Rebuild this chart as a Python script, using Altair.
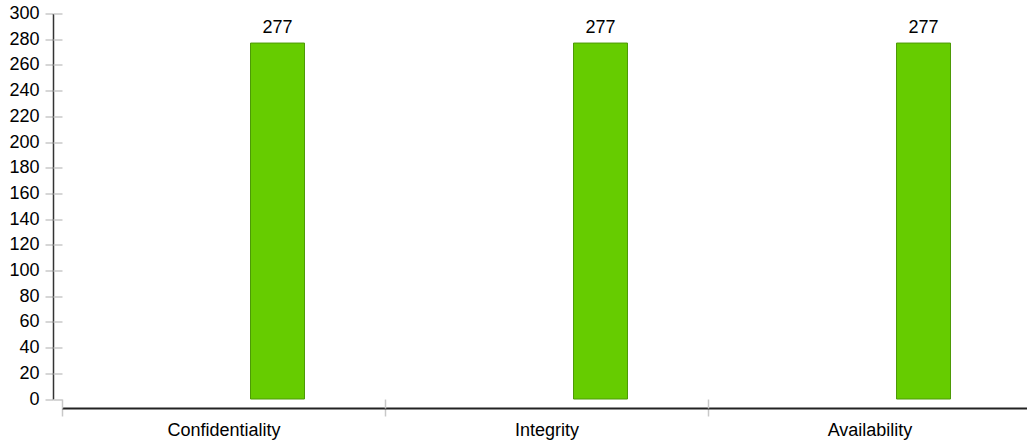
import altair as alt
import pandas as pd

categories = ["Confidentiality", "Integrity", "Availability"]
values = [277, 277, 277]
y_ticks = list(range(0, 301, 20))

df = pd.DataFrame({"category": categories, "value": values})

FONT = "Liberation Sans"

x_scale = alt.Scale(paddingInner=0, paddingOuter=0, range=[0, 969])
y_scale = alt.Scale(domain=[0, 300], nice=False, zero=True)

base = alt.Chart(df)

bars = base.mark_bar(
    width=54, xOffset=54, color="#66cc00", stroke="#4d9a06", strokeWidth=1
).encode(
    x=alt.X("category:N", sort=categories, scale=x_scale, title=None,
            axis=alt.Axis(orient="bottom", offset=9, tickSize=8, tickBand="extent",
                          domainColor="#222", domainWidth=2, tickColor="#c8c8c8",
                          tickWidth=1.5, labelFont=FONT, labelFontSize=18,
                          labelColor="#000", labelPadding=5, labelAngle=0, grid=False)),
    y=alt.Y("value:Q", scale=y_scale, title=None,
            axis=alt.Axis(orient="left", offset=9, tickSize=8, values=y_ticks,
                          domainColor="#333", domainWidth=1.5, tickColor="#c8c8c8",
                          tickWidth=1.5, labelFont=FONT, labelFontSize=18,
                          labelColor="#000", labelPadding=6, grid=False)),
)

labels = base.mark_text(
    dy=-10, xOffset=54, baseline="alphabetic", align="center",
    font=FONT, fontSize=18, color="#000"
).encode(
    x=alt.X("category:N", sort=categories, scale=x_scale, title=None,
            axis=alt.Axis(orient="bottom", offset=0, tickSize=9, tickBand="extent",
                          domain=False, labels=False, tickColor="#c8c8c8",
                          tickWidth=1.5, grid=False)),
    y=alt.Y("value:Q", scale=y_scale, title=None,
            axis=alt.Axis(orient="left", offset=0, tickSize=9, values=y_ticks,
                          domain=False, labels=False, tickColor="#c8c8c8",
                          tickWidth=1.5, grid=False)),
    text=alt.Text("value:Q"),
)

chart = alt.layer(bars, labels).resolve_axis(
    x="independent", y="independent"
).resolve_scale(x="shared", y="shared").properties(
    width=965, height=385.5,
    autosize=alt.AutoSizeParams(type="none"),
    padding={"left": 62, "top": 13.5, "right": 0, "bottom": 44},
    background="white",
).configure_view(stroke=None)

chart.save("out.html", embed_options={"renderer": "svg", "actions": False})
